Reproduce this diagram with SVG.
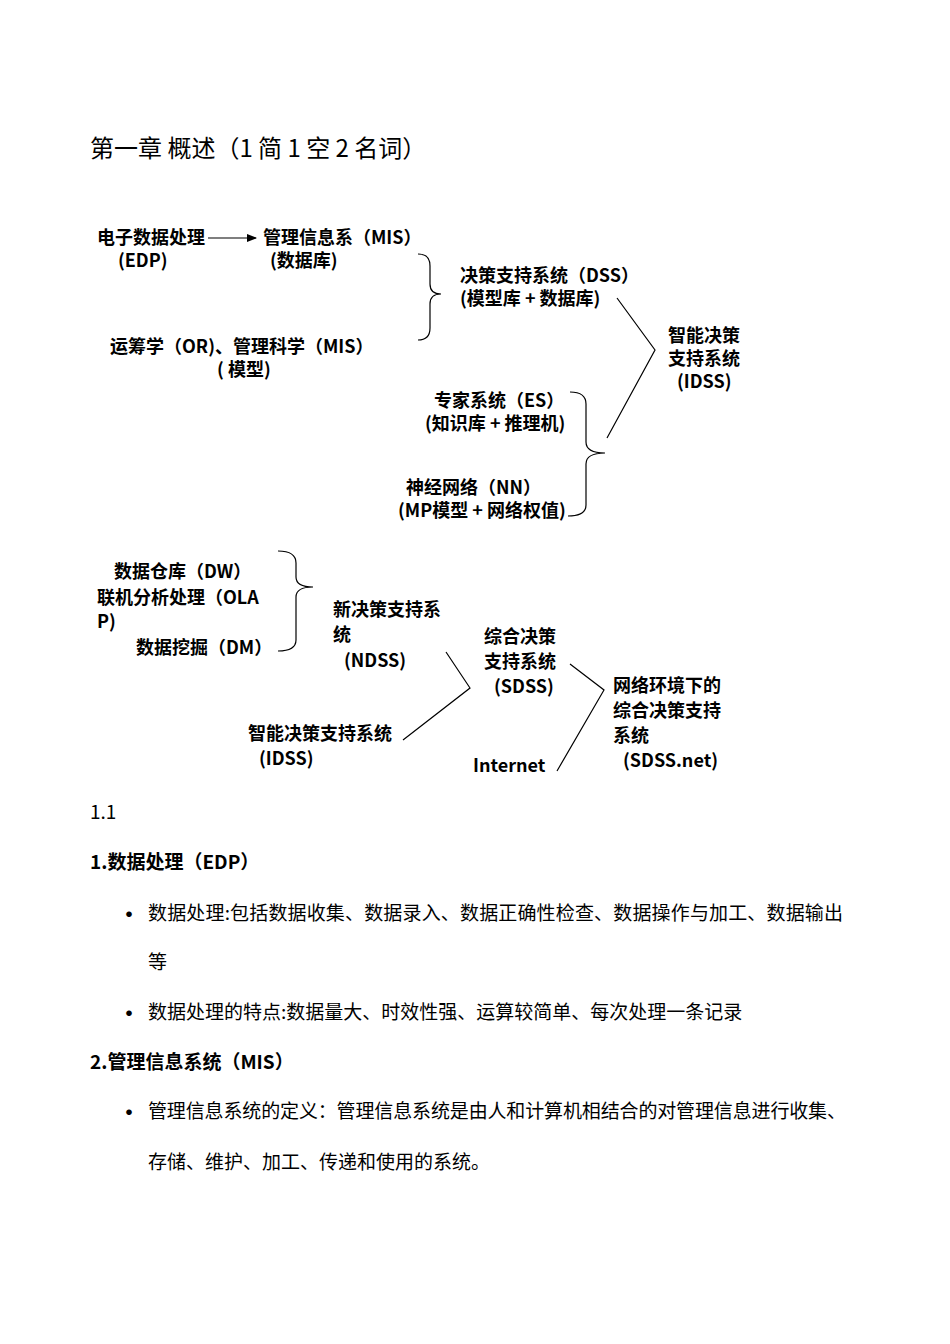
<svg xmlns="http://www.w3.org/2000/svg" width="950" height="1344" viewBox="0 0 950 1344">
<style>
text{font-family:"Noto Sans CJK SC","Open Sans",sans-serif;fill:#000}
.d{font-size:18px;font-weight:bold}
.b{font-size:19px}
.h{font-size:19px;font-weight:bold}
.t{font-size:24px}
.u{font-size:22px;font-weight:bold}
.l{fill:none;stroke:#000;stroke-width:1.2}
</style>
<defs><marker id="a" markerWidth="10" markerHeight="8" refX="9" refY="4" orient="auto" markerUnits="userSpaceOnUse"><path d="M0,0L10,4L0,8z" fill="#000"/></marker></defs>
<rect width="950" height="1344" fill="#fff"/>
<text class="t" x="90" y="157">第一章  概述（1 简 1 空 2 名词）</text>
<g id="connectors">
<line class="l" x1="208" y1="238" x2="256" y2="238" marker-end="url(#a)"/>
<path class="l" d="M418,254 Q430,254 430,266 L430,284 Q430,294 441,294 Q430,294 430,304 L430,328 Q430,340 418,340"/>
<polyline class="l" points="617,298 655,350 607,438"/>
<path class="l" d="M570,392 Q586,392 586,404 L586,442 Q586,453 605,453 Q586,453 586,464 L586,505 Q586,516 568,516"/>
<path class="l" d="M278,551 Q296,551 296,563 L296,577 Q296,587 313,587 Q296,587 296,597 L296,640 Q296,651 278,651"/>
<polyline class="l" points="446,652 470,688 403,740"/>
<polyline class="l" points="570,664 604,690 557,771"/>
</g>
<g id="edp"><text class="d" x="97" y="244">电子数据处理</text><text class="d" x="118" y="267">(EDP)</text></g>
<g id="mis"><text class="d" x="263" y="244">管理信息系（MIS）</text><text class="d" x="270" y="267">(数据库)</text></g>
<g id="or"><text class="d" x="110" y="353">运筹学（OR)、管理科学（MIS）</text><text class="d" x="217" y="376">( 模型)</text></g>
<g id="dss"><text class="d" x="460" y="282">决策支持系统（DSS）</text><text class="d" x="460" y="305">(模型库 + 数据库)</text></g>
<g id="idss"><text class="d" x="668" y="342">智能决策</text><text class="d" x="668" y="365">支持系统</text><text class="d" x="677" y="388">(IDSS)</text></g>
<g id="es"><text class="d" x="434" y="407">专家系统（ES）</text><text class="d" x="425" y="430">(知识库 + 推理机)</text></g>
<g id="nn"><text class="d" x="406" y="494">神经网络（NN）</text><text class="d" x="398" y="517">(MP模型 + 网络权值)</text></g>
<g id="dw"><text class="d" x="114" y="578">数据仓库（DW）</text><text class="d" x="97" y="604">联机分析处理（OLA</text><text class="d" x="97" y="628">P)</text><text class="d" x="136" y="654">数据挖掘（DM）</text></g>
<g id="ndss"><text class="d" x="333" y="616">新决策支持系</text><text class="d" x="333" y="641">统</text><text class="d" x="344" y="667">(NDSS)</text></g>
<g id="sdss"><text class="d" x="484" y="643">综合决策</text><text class="d" x="484" y="668">支持系统</text><text class="d" x="494" y="693">(SDSS)</text></g>
<g id="idss2"><text class="d" x="248" y="740">智能决策支持系统</text><text class="d" x="259" y="765">(IDSS)</text></g>
<g id="internet"><text class="d" x="473" y="772">Internet</text></g>
<g id="sdssnet"><text class="d" x="613" y="692">网络环境下的</text><text class="d" x="613" y="717">综合决策支持</text><text class="d" x="613" y="742">系统</text><text class="d" x="623" y="767">(SDSS.net)</text></g>
<text class="b" x="90" y="819">1.1</text>
<text class="h" x="90" y="869">1.数据处理（EDP）</text>
<text class="u" x="118" y="922">•</text>
<text class="b" x="148" y="920" textLength="695">数据处理:包括数据收集、数据录入、数据正确性检查、数据操作与加工、数据输出</text>
<text class="b" x="148" y="969">等</text>
<text class="u" x="118" y="1021">•</text>
<text class="b" x="148" y="1019">数据处理的特点:数据量大、时效性强、运算较简单、每次处理一条记录</text>
<text class="h" x="90" y="1069">2.管理信息系统（MIS）</text>
<text class="u" x="118" y="1120">•</text>
<text class="b" x="148" y="1118" textLength="698">管理信息系统的定义：管理信息系统是由人和计算机相结合的对管理信息进行收集、</text>
<text class="b" x="148" y="1169">存储、维护、加工、传递和使用的系统。</text>
</svg>
